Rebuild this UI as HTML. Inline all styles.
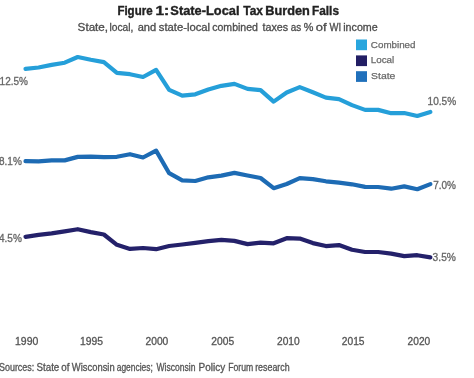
<!DOCTYPE html>
<html><head><meta charset="utf-8"><style>
html,body{margin:0;padding:0;background:#fff;overflow:hidden;}
svg{display:block;will-change:transform;font-family:"Liberation Sans",sans-serif;}
</style></head><body>
<svg width="474" height="378" viewBox="0 0 474 378">
<rect width="474" height="378" fill="#fff"/>
<g font-size="12.2" font-weight="bold" fill="#222" stroke="#222" stroke-width="0.35">
<text x="117.40" y="14.8" textLength="35.16" lengthAdjust="spacingAndGlyphs" >Figure</text>
<text x="155.42" y="14.8" textLength="13.76" lengthAdjust="spacingAndGlyphs" >1:</text>
<text x="170.37" y="14.8" textLength="69.12" lengthAdjust="spacingAndGlyphs" >State-Local</text>
<text x="243.23" y="14.8" textLength="19.77" lengthAdjust="spacingAndGlyphs" >Tax</text>
<text x="265.22" y="14.8" textLength="44.59" lengthAdjust="spacingAndGlyphs" >Burden</text>
<text x="311.98" y="14.8" textLength="27.03" lengthAdjust="spacingAndGlyphs" >Falls</text>
</g>
<g font-size="10" fill="#4d4d4d" stroke="#4d4d4d" stroke-width="0.3">
<text x="77.63" y="30.5" textLength="30.45" lengthAdjust="spacingAndGlyphs" >State,</text>
<text x="109.49" y="30.5" textLength="23.88" lengthAdjust="spacingAndGlyphs" >local,</text>
<text x="137.71" y="30.5" textLength="18.50" lengthAdjust="spacingAndGlyphs" >and</text>
<text x="158.81" y="30.5" textLength="51.30" lengthAdjust="spacingAndGlyphs" >state-local</text>
<text x="212.23" y="30.5" textLength="45.72" lengthAdjust="spacingAndGlyphs" >combined</text>
<text x="262.49" y="30.5" textLength="25.64" lengthAdjust="spacingAndGlyphs" >taxes</text>
<text x="290.75" y="30.5" textLength="10.45" lengthAdjust="spacingAndGlyphs" >as</text>
<text x="303.87" y="30.5" textLength="9.65" lengthAdjust="spacingAndGlyphs" >%</text>
<text x="315.73" y="30.5" textLength="10.81" lengthAdjust="spacingAndGlyphs" >of</text>
<text x="329.50" y="30.5" textLength="11.62" lengthAdjust="spacingAndGlyphs" >WI</text>
<text x="343.26" y="30.5" textLength="34.46" lengthAdjust="spacingAndGlyphs" >income</text>
</g>
<rect x="356" y="39.5" width="11" height="10.7" fill="#29a6de"/>
<rect x="356" y="55.4" width="11" height="10.7" fill="#221e64"/>
<rect x="356" y="71.2" width="11" height="10.7" fill="#2070bb"/>
<g font-size="9.6" fill="#6a6a6a" stroke="#6a6a6a" stroke-width="0.25">
<text x="370.86" y="47.5" textLength="44.66" lengthAdjust="spacingAndGlyphs" >Combined</text>
<text x="370.76" y="63.4" textLength="23.53" lengthAdjust="spacingAndGlyphs" >Local</text>
<text x="371.08" y="79.4" textLength="24.34" lengthAdjust="spacingAndGlyphs" >State</text>
</g>
<g fill="none" stroke-width="4.2" stroke-linejoin="round" stroke-linecap="round">
<polyline points="25.50,68.90 38.56,67.50 51.62,64.90 64.68,62.70 77.74,57.00 90.80,59.80 103.86,62.10 116.92,72.80 129.98,74.20 143.04,77.00 156.10,69.90 169.16,89.80 182.22,95.70 195.28,94.30 208.34,89.50 221.40,85.80 234.46,83.90 247.52,88.90 260.58,90.10 273.64,101.60 286.70,92.50 299.76,87.10 312.82,92.30 325.88,97.60 338.94,99.10 352.00,105.10 365.06,109.90 378.12,109.90 391.18,113.20 404.24,113.00 417.30,116.00 430.36,111.90" stroke="#259fd9"/>
<polyline points="25.50,161.20 38.56,161.40 51.62,160.30 64.68,160.40 77.74,156.90 90.80,156.60 103.86,157.10 116.92,156.80 129.98,154.20 143.04,157.50 156.10,150.60 169.16,173.20 182.22,180.40 195.28,181.00 208.34,177.30 221.40,175.60 234.46,172.90 247.52,175.50 260.58,178.00 273.64,188.20 286.70,184.00 299.76,178.10 312.82,179.10 325.88,181.30 338.94,182.70 352.00,184.30 365.06,186.90 378.12,187.00 391.18,188.70 404.24,186.40 417.30,189.20 430.36,184.10" stroke="#1d6bb4"/>
<polyline points="25.50,236.80 38.56,234.90 51.62,233.40 64.68,231.40 77.74,229.20 90.80,232.10 103.86,234.50 116.92,244.80 129.98,248.90 143.04,248.00 156.10,249.20 169.16,246.00 182.22,244.50 195.28,242.90 208.34,241.10 221.40,239.90 234.46,240.90 247.52,244.10 260.58,242.60 273.64,243.30 286.70,238.20 299.76,238.60 312.82,243.10 325.88,246.05 338.94,245.10 352.00,249.80 365.06,252.00 378.12,252.00 391.18,253.60 404.24,256.10 417.30,255.20 430.36,257.40" stroke="#24216a"/>
</g>
<g font-size="10" fill="#666" stroke="#666" stroke-width="0.3">
<text x="-0.4" y="85.3" textLength="28.3" lengthAdjust="spacingAndGlyphs">12.5%</text>
<text x="427.60" y="104.5" textLength="28.51" lengthAdjust="spacingAndGlyphs" >10.5%</text>
<text x="-1" y="165.3" textLength="22.8" lengthAdjust="spacingAndGlyphs">8.1%</text>
<text x="433.15" y="189.0" textLength="22.74" lengthAdjust="spacingAndGlyphs" >7.0%</text>
<text x="-1" y="241.6" textLength="22.8" lengthAdjust="spacingAndGlyphs">4.5%</text>
<text x="432.64" y="260.9" textLength="23.26" lengthAdjust="spacingAndGlyphs" >3.5%</text>
</g>
<g font-size="10" fill="#555" stroke="#555" stroke-width="0.3">
<text x="15.07" y="345.0" textLength="23.25" lengthAdjust="spacingAndGlyphs" >1990</text>
<text x="80.08" y="345.0" textLength="22.98" lengthAdjust="spacingAndGlyphs" >1995</text>
<text x="145.54" y="345.0" textLength="22.77" lengthAdjust="spacingAndGlyphs" >2000</text>
<text x="211.34" y="345.0" textLength="22.82" lengthAdjust="spacingAndGlyphs" >2005</text>
<text x="277.04" y="345.0" textLength="22.66" lengthAdjust="spacingAndGlyphs" >2010</text>
<text x="341.84" y="345.0" textLength="22.72" lengthAdjust="spacingAndGlyphs" >2015</text>
<text x="407.64" y="345.0" textLength="22.56" lengthAdjust="spacingAndGlyphs" >2020</text>
</g>
<g font-size="10" fill="#555" stroke="#555" stroke-width="0.3">
<text x="-1.05" y="370.9" textLength="35.32" lengthAdjust="spacingAndGlyphs" >Sources:</text>
<text x="36.51" y="370.9" textLength="22.78" lengthAdjust="spacingAndGlyphs" >State</text>
<text x="61.26" y="370.9" textLength="8.18" lengthAdjust="spacingAndGlyphs" >of</text>
<text x="71.80" y="370.9" textLength="42.87" lengthAdjust="spacingAndGlyphs" >Wisconsin</text>
<text x="116.71" y="370.9" textLength="36.06" lengthAdjust="spacingAndGlyphs" >agencies;</text>
<text x="156.51" y="370.9" textLength="39.01" lengthAdjust="spacingAndGlyphs" >Wisconsin</text>
<text x="198.55" y="370.9" textLength="26.57" lengthAdjust="spacingAndGlyphs" >Policy</text>
<text x="228.16" y="370.9" textLength="25.05" lengthAdjust="spacingAndGlyphs" >Forum</text>
<text x="255.17" y="370.9" textLength="34.46" lengthAdjust="spacingAndGlyphs" >research</text>
</g>
</svg>
</body></html>
